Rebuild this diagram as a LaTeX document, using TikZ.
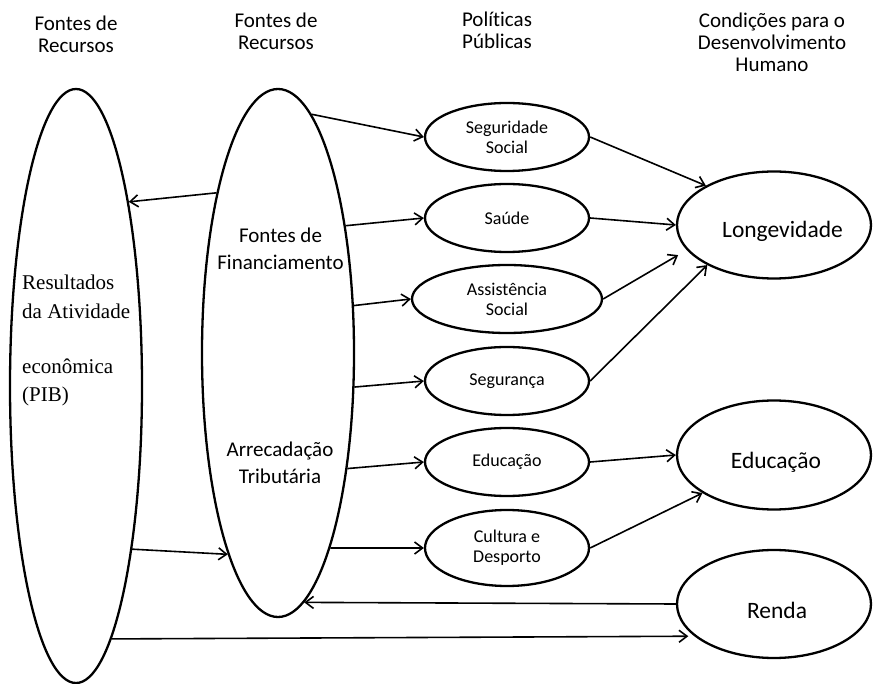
\documentclass[tikz,border=0pt]{standalone}
\usepackage{fontspec}
\setmainfont{Carlito}[Ligatures=NoCommon]
\newfontfamily\serifx{Liberation Serif}
\usetikzlibrary{shapes.geometric,arrows.meta}
\begin{document}
\begin{tikzpicture}[x=1pt,y=-1pt,
 ell/.style={ellipse, draw, line width=2.3pt, inner sep=0pt},
 smallell/.style={ell, minimum width=164pt, minimum height=68pt, font=\fontsize{18}{20}\selectfont, align=center},
 bigell/.style={ell, minimum width=194pt, minimum height=107pt},
 headtxt/.style={font=\fontsize{21}{22}\selectfont, align=center},
 midtxt/.style={font=\fontsize{21}{27}\selectfont, align=center},
 bigtxt/.style={font=\fontsize{23.5}{26}\selectfont, anchor=base},
 sertxt/.style={font=\serifx\fontsize{21}{29}\selectfont, anchor=base west, inner sep=0pt},
 conn/.style={line width=1.6pt, -{Straight Barb[length=8pt,width=12pt]}}
]
\useasboundingbox (0,0) rectangle (873,684);
% big ellipses
\node[ell, minimum width=132pt, minimum height=594pt] (pib) at (76,386) {};
\node[ell, minimum width=152pt, minimum height=528pt] (fin) at (278,353) {};
% policies
\node[smallell] (seg) at (507,137) {Seguridade\\Social};
\node[smallell] (sau) at (507,218) {Saúde};
\node[smallell, minimum width=190pt] (ass) at (507,299) {Assistência\\Social};
\node[smallell] (segu) at (507,381) {Segurança};
\node[smallell] (edu) at (507,462) {Educação};
\node[smallell, minimum height=76pt] (cul) at (507,548) {Cultura e\\Desporto};
% outcomes
\node[bigell] (lon) at (774,225) {};
\node[bigell, minimum height=109pt] (edb) at (774,455) {};
\node[bigell, minimum height=108pt] (ren) at (774,604) {};
% headers
\node[headtxt] (h1) at (76,34) {Fontes de\\Recursos};
\node[headtxt] (h2) at (276,31.5) {Fontes de\\Recursos};
\node[headtxt] (h3) at (497,30.5) {Políticas\\Públicas};
\node[headtxt] (h4) at (772,42.5) {Condições para o\\Desenvolvimento\\Humano};
% texts inside large ellipses
\node[midtxt] (t1) at (280.5,249) {Fontes de\\Financiamento};
\node[midtxt] (t2) at (280,463) {Arrecadação\\Tributária};
\node[sertxt] (s1) at (22,290) {Resultados};
\node[sertxt] (s2) at (22,319) {da Atividade};
\node[sertxt] (s3) at (22,374) {econômica};
\node[sertxt] (s4) at (22,402) {(PIB)};
\node[bigtxt] (lt) at (782.5,238) {Longevidade};
\node[bigtxt] (et) at (776,468) {Educação};
\node[bigtxt] (rt) at (777,618) {Renda};
% connectors
\draw[conn] (fin.82) -- (seg.west);
\draw[conn] (fin.62.5) -- (sau.west);
\draw[conn] (fin.32.7) -- (ass.west);
\draw[conn] (fin.-24.3) -- (segu.west);
\draw[conn] (fin.-59.5) -- (edu.west);
\draw[conn] (fin.-75.6) -- (cul.west);
\draw[conn] (fin.111.6) -- (pib.74.8);
\draw[conn] (pib.-71.5) -- (fin.-104.4);
\draw[conn] (ren.west) -- (fin.-84.9);
\draw[conn, shorten >=6pt] (pib.-82.9) -- (ren.202.3);
\draw[conn] (seg.east) -- (lon.150.1);
\draw[conn] (sau.east) -- (lon.west);
\draw[conn, shorten >=10pt] (ass.east) -- (lon.196.3);
\draw[conn] (segu.east) -- (lon.211.2);
\draw[conn] (edu.east) -- (edb.west);
\draw[conn] (cul.east) -- (edb.208.8);
\end{tikzpicture}
\end{document}
